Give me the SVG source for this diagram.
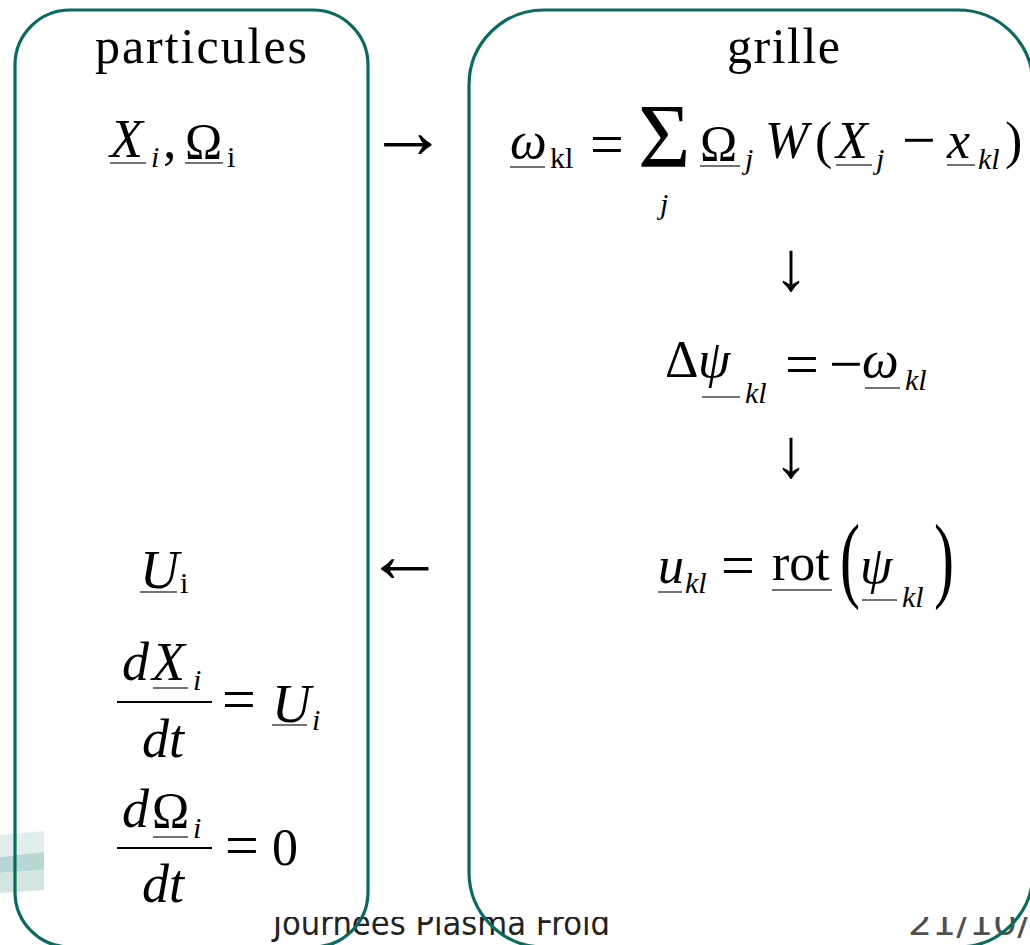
<svg xmlns="http://www.w3.org/2000/svg" width="1030" height="945" viewBox="0 0 1030 945">
<style>
.m{font-family:"Liberation Serif","Times New Roman",serif;font-size:52px;fill:#000}
.it{font-style:italic}
.s{font-size:30px}
.ul{stroke:#444;stroke-width:1.5}
.fr{stroke:#000;stroke-width:2}
.box{fill:none;stroke:#0b6a5f;stroke-width:3.2}
.ft{font-family:"DejaVu Sans","Liberation Sans",sans-serif;font-size:33px}
.op{font-size:60px}
</style>
<defs>
<clipPath id="fc"><rect x="0" y="917" width="1030" height="28"/></clipPath>
</defs>
<g id="decor">
<polygon points="0,835 44,831 44,852 0,857" fill="#e2eeee"/>
<polygon points="0,857 44,852 44,870 0,873" fill="#b8d6d4"/>
<polygon points="0,873 44,870 44,890 0,893" fill="#d2e5e3"/>
</g>
<g id="footer" clip-path="url(#fc)">
<text class="ft" x="273" y="935" fill="#222" textLength="337" lengthAdjust="spacingAndGlyphs">Journées Plasma Froid</text>
<text class="ft" x="908" y="935" fill="#505050" textLength="122" lengthAdjust="spacingAndGlyphs">21/10/</text>
</g>
<g id="particules">
<rect class="box" x="15" y="10" width="353" height="937" rx="55" ry="55"/>
<text class="m" x="95" y="63" style="font-size:50px" textLength="212">particules</text>
<text class="m it" x="110" y="157" style="font-size:54px">X</text>
<text class="m it s" x="151" y="167">i</text>
<text class="m" x="163" y="158" style="font-size:54px">,</text>
<text class="m" x="185" y="158" style="font-size:50px">Ω</text>
<text class="m s" x="227" y="167">i</text>
<line class="ul" x1="110" y1="163" x2="146" y2="163"/>
<line class="ul" x1="185" y1="163" x2="223" y2="163"/>
<text class="m it" x="140" y="588" style="font-size:54px">U</text>
<text class="m s" x="180" y="593">i</text>
<line class="ul" x1="140" y1="592" x2="177" y2="592"/>
<text class="m it" x="122" y="680" style="font-size:54px">d</text>
<text class="m it" x="152" y="680" style="font-size:54px">X</text>
<text class="m it s" x="193" y="690">i</text>
<line class="ul" x1="153" y1="688" x2="188" y2="688"/>
<line class="fr" x1="117" y1="702" x2="212" y2="702"/>
<text class="m it" x="142" y="757" style="font-size:54px">dt</text>
<text class="m op" x="222" y="719">=</text>
<text class="m it" x="272" y="722" style="font-size:54px">U</text>
<text class="m it s" x="312" y="730">i</text>
<line class="ul" x1="272" y1="725" x2="307" y2="725"/>
<text class="m it" x="122" y="827" style="font-size:54px">d</text>
<text class="m" x="152" y="827" style="font-size:50px">Ω</text>
<text class="m it s" x="193" y="838">i</text>
<line class="ul" x1="153" y1="837" x2="188" y2="837"/>
<line class="fr" x1="117" y1="848" x2="212" y2="848"/>
<text class="m it" x="142" y="902" style="font-size:54px">dt</text>
<text class="m op" x="225" y="865">=</text>
<text class="m" x="272" y="865" style="font-size:52px">0</text>
</g>
<g id="grille">
<rect class="box" x="469" y="10" width="564" height="937" rx="75" ry="75"/>
<text class="m" x="727" y="63" style="font-size:50px" textLength="113">grille</text>
<text class="m it" x="510" y="158">ω</text>
<line class="ul" x1="510" y1="167" x2="545" y2="167"/>
<text class="m s" x="550" y="168">kl</text>
<text class="m op" x="590" y="164">=</text>
<text class="m" x="638" y="167" style="font-size:90px">Σ</text>
<text class="m it s" x="660" y="214">j</text>
<text class="m" x="700" y="160" style="font-size:50px">Ω</text>
<line class="ul" x1="700" y1="166" x2="740" y2="166"/>
<text class="m it s" x="745" y="169">j</text>
<text class="m it" x="765" y="158">W</text>
<text class="m" x="815" y="158">(</text>
<text class="m it" x="836" y="158">X</text>
<line class="ul" x1="836" y1="165" x2="872" y2="165"/>
<text class="m it s" x="876" y="169">j</text>
<text class="m op" x="902" y="160">−</text>
<text class="m it" x="947" y="158">x</text>
<line class="ul" x1="947" y1="165" x2="975" y2="165"/>
<text class="m it s" x="978" y="169">kl</text>
<text class="m" x="1005" y="158">)</text>
<text class="m" x="665" y="377">Δ</text>
<text class="m it" x="698" y="377">ψ</text>
<line class="ul" x1="702" y1="397" x2="740" y2="397"/>
<text class="m it s" x="745" y="403">kl</text>
<text class="m op" x="785" y="384">=</text>
<text class="m op" x="829" y="384">−</text>
<text class="m it" x="862" y="377">ω</text>
<line class="ul" x1="865" y1="388" x2="900" y2="388"/>
<text class="m it s" x="905" y="390">kl</text>
<text class="m it" x="658" y="583">u</text>
<line class="ul" x1="658" y1="592" x2="682" y2="592"/>
<text class="m it s" x="685" y="593">kl</text>
<text class="m op" x="721" y="585">=</text>
<text class="m" x="772" y="580">rot</text>
<line class="ul" x1="772" y1="590" x2="832" y2="590"/>
<text class="m" transform="translate(840,590) scale(1,1.6)" style="font-size:60px">(</text>
<text class="m it" x="860" y="583">ψ</text>
<line class="ul" x1="862" y1="600" x2="897" y2="600"/>
<text class="m it s" x="902" y="607">kl</text>
<text class="m" transform="translate(934,590) scale(1,1.6)" style="font-size:60px">)</text>
</g>
<g id="connectors">
<text class="m" x="368" y="158" style="font-size:80px">→</text>
<text class="m" x="365" y="582" style="font-size:80px">←</text>
<text class="m" x="791" y="290" style="font-size:70px" text-anchor="middle">↓</text>
<text class="m" x="791" y="477" style="font-size:70px" text-anchor="middle">↓</text>
</g>
</svg>
